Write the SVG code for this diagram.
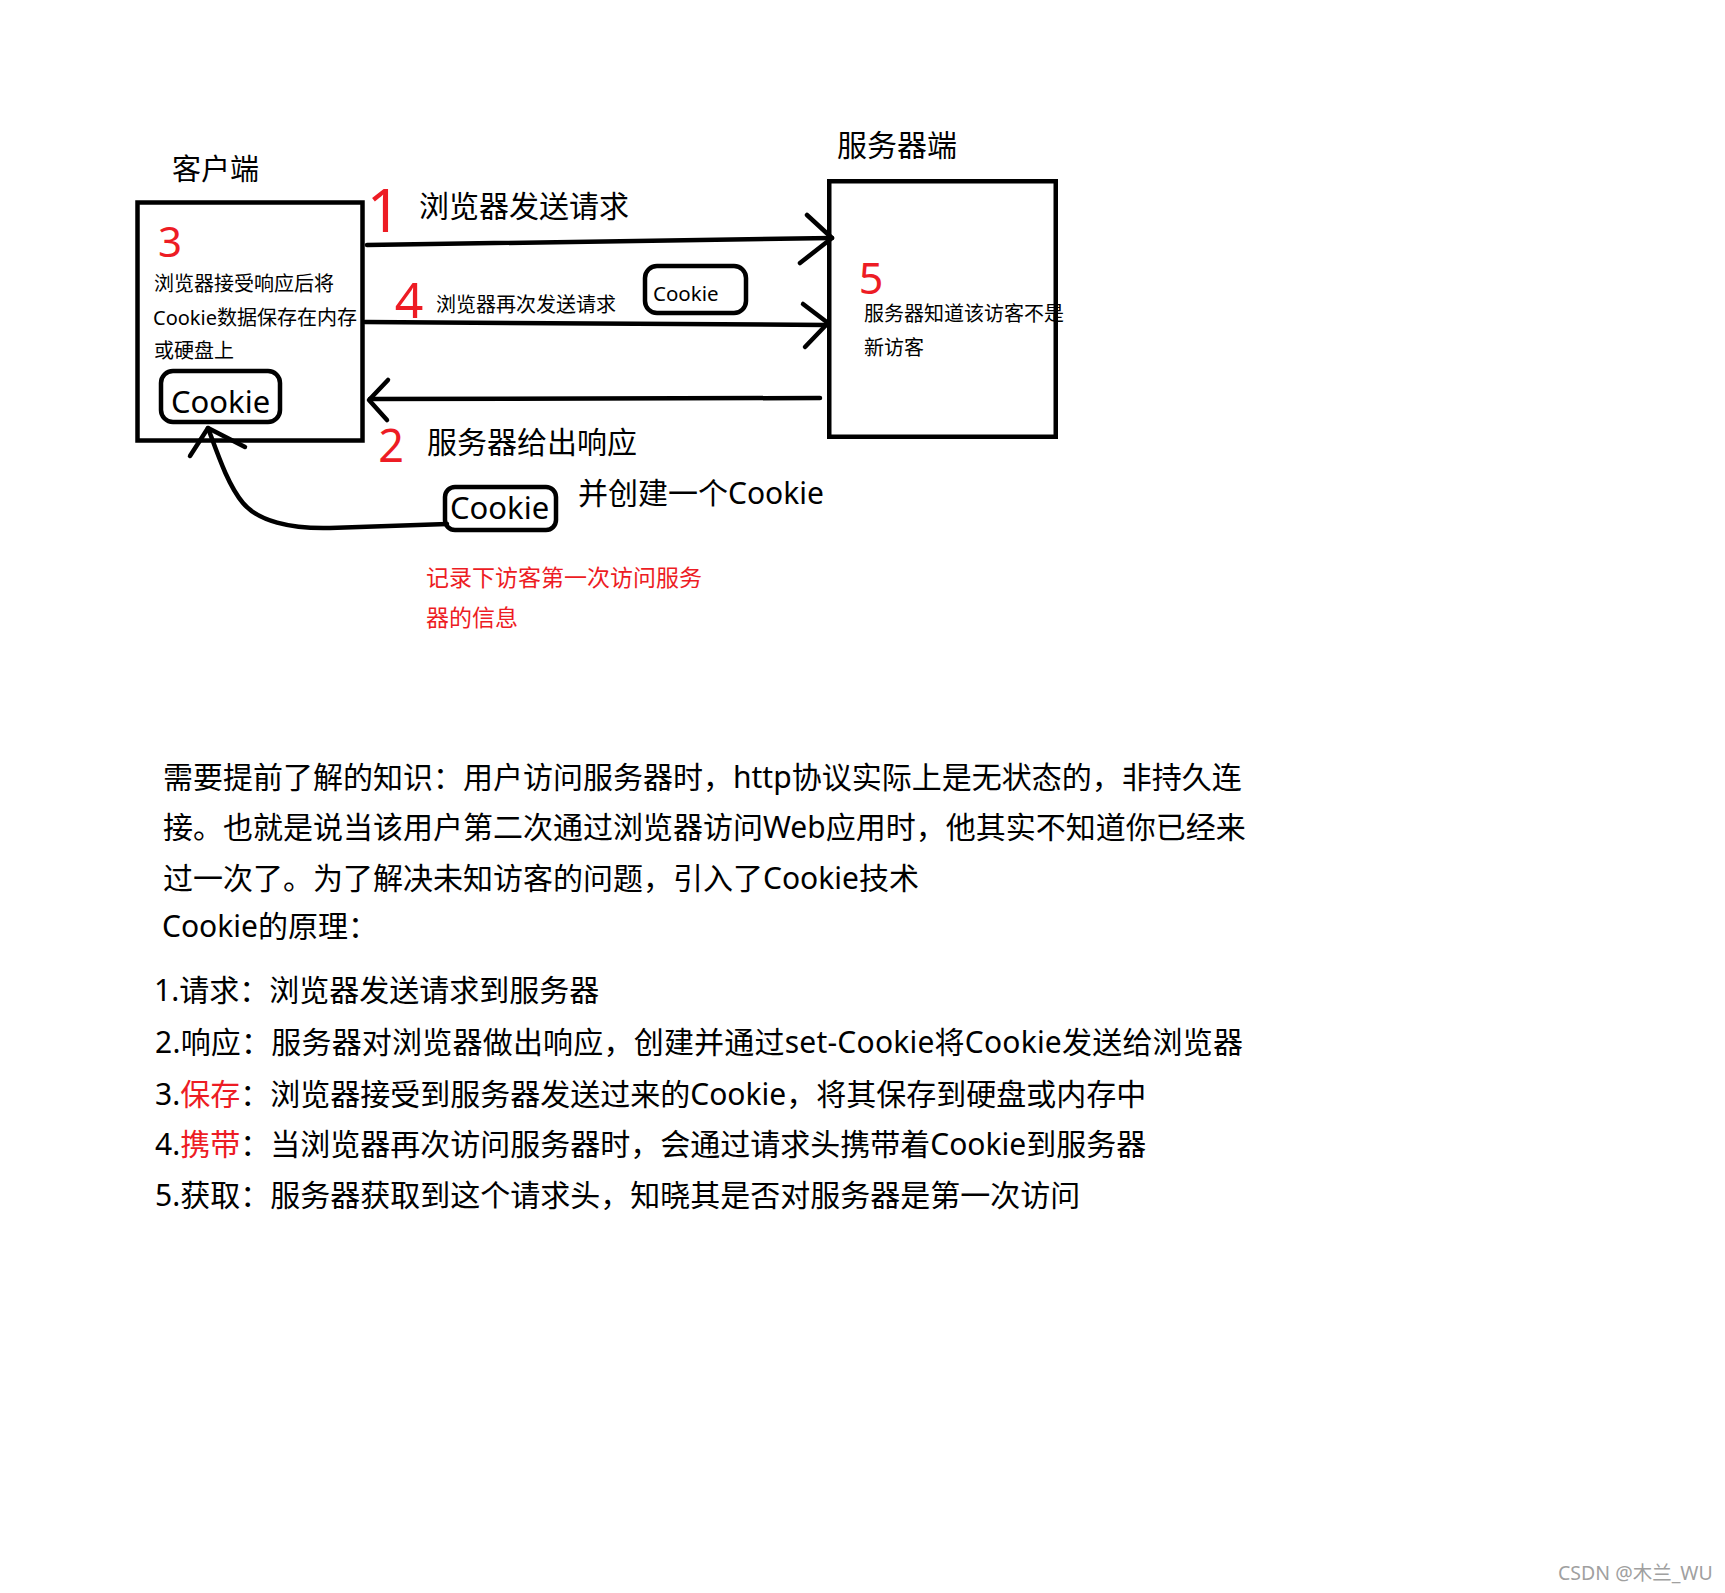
<svg xmlns="http://www.w3.org/2000/svg" width="1725" height="1593" viewBox="0 0 1725 1593">
<style>
.t{font-family:"Noto Sans","Noto Sans CJK SC",sans-serif;fill:#000}
.red{fill:#ed1c24}
.num{font-family:"Noto Sans",sans-serif;fill:#ed1c24;text-anchor:middle}
.box{fill:none;stroke:#000;stroke-width:4.5}
.ln{fill:none;stroke:#000;stroke-width:4.5;stroke-linecap:round;stroke-linejoin:round}
.wm{font-family:"Noto Sans","Noto Sans CJK SC",sans-serif;fill:#a0a0a0}
</style>
<rect width="1725" height="1593" fill="#fff"/>

<g id="client">
  <text class="t" x="172" y="180" font-size="29">客户端</text>
  <text class="num" x="170" y="257" font-size="42">3</text>
  <text class="t" x="154" y="291" font-size="20">浏览器接受响应后将</text>
  <text class="t" x="153" y="325" font-size="20">Cookie数据保存在内存</text>
  <text class="t" x="154" y="358" font-size="20">或硬盘上</text>
  <rect class="box" x="137.5" y="202.5" width="225" height="238" stroke-width="5"/>
  <g id="client-cookie">
    <rect class="box" x="161" y="371" width="119" height="51" rx="12"/>
    <text class="t" x="171" y="413" font-size="31">Cookie</text>
  </g>
</g>

<g id="server">
  <text class="t" x="837" y="156" font-size="30">服务器端</text>
  <rect class="box" x="829.25" y="181.25" width="226.5" height="255.5"/>
  <text class="num" x="871" y="294" font-size="43">5</text>
  <text class="t" x="864" y="321" font-size="20">服务器知道该访客不是</text>
  <text class="t" x="864" y="355" font-size="20">新访客</text>
</g>

<g id="request-cookie">
  <rect class="box" x="645" y="266" width="101" height="47" rx="12"/>
  <text class="t" x="653" y="301" font-size="20.5">Cookie</text>
</g>

<g id="response-cookie">
  <rect class="box" x="445" y="487" width="111" height="43" rx="10"/>
  <text class="t" x="450" y="519" font-size="31">Cookie</text>
</g>

<g id="labels">
  <text class="num" x="384" y="232" font-size="60">1</text>
  <text class="t" x="419" y="217" font-size="30">浏览器发送请求</text>
  <text class="num" x="409" y="318" font-size="50">4</text>
  <text class="t" x="436" y="312" font-size="20">浏览器再次发送请求</text>
  <text class="num" x="391" y="462" font-size="45">2</text>
  <text class="t" x="427" y="453" font-size="30">服务器给出响应</text>
  <text class="t" x="578" y="504" font-size="30">并创建一个Cookie</text>
  <text class="t red" x="426" y="586" font-size="23">记录下访客第一次访问服务</text>
  <text class="t red" x="426" y="626" font-size="23">器的信息</text>
</g>

<g id="connectors">
  <path class="ln" d="M367,245 L832,238"/>
  <path class="ln" d="M807,215 L832,238 L800,263"/>
  <path class="ln" d="M365,322 L827,325"/>
  <path class="ln" d="M803,304 L828,323 L805,347"/>
  <path class="ln" d="M820,398 L370,399"/>
  <path class="ln" d="M388,380 L369,400 L387,420"/>
  <path class="ln" d="M447,524 L330,528 C290,529 258,521 243,503 C228,485 218,455 208,428"/>
  <path class="ln" d="M190,456 L208,428 L245,447"/>
</g>

<g id="notes">
  <text class="t" x="163" y="788" font-size="30">需要提前了解的知识：用户访问服务器时，http协议实际上是无状态的，非持久连</text>
  <text class="t" x="163" y="838" font-size="30">接。也就是说当该用户第二次通过浏览器访问Web应用时，他其实不知道你已经来</text>
  <text class="t" x="163" y="889" font-size="30">过一次了。为了解决未知访客的问题，引入了Cookie技术</text>
  <text class="t" x="162" y="937" font-size="30">Cookie的原理：</text>
  <text class="t" x="154" y="1001" font-size="30">1.请求：浏览器发送请求到服务器</text>
  <text class="t" x="155" y="1053" font-size="30" textLength="1088" lengthAdjust="spacing">2.响应：服务器对浏览器做出响应，创建并通过set-Cookie将Cookie发送给浏览器</text>
  <text class="t" x="155" y="1105" font-size="30">3.<tspan class="red">保存</tspan>：浏览器接受到服务器发送过来的Cookie，将其保存到硬盘或内存中</text>
  <text class="t" x="155" y="1155" font-size="30">4.<tspan class="red">携带</tspan>：当浏览器再次访问服务器时，会通过请求头携带着Cookie到服务器</text>
  <text class="t" x="155" y="1206" font-size="30">5.获取：服务器获取到这个请求头，知晓其是否对服务器是第一次访问</text>
</g>

<text class="wm" x="1558" y="1580" font-size="19.5">CSDN @木兰_WU</text>
</svg>
